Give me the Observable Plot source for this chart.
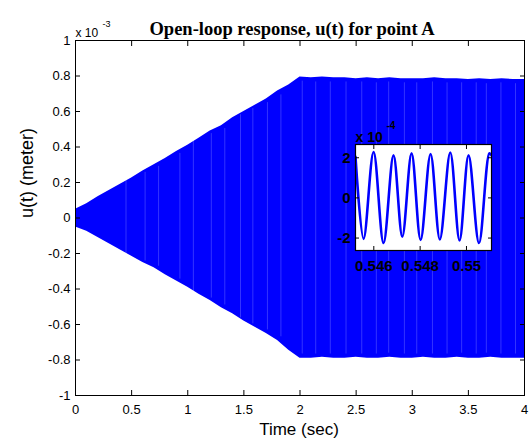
<!DOCTYPE html>
<html>
<head>
<meta charset="utf-8">
<script src="https://cdn.jsdelivr.net/npm/d3@7"></script>
<script src="https://cdn.jsdelivr.net/npm/@observablehq/plot@0.6"></script>
<style>
  html, body { margin: 0; padding: 0; background: white; }
  #wrap { position: relative; width: 529px; height: 443px; overflow: hidden; }
  #inset { position: absolute; left: 325px; top: 124px; }
</style>
</head>
<body>
<div id="wrap"><div id="main"></div><div id="inset"></div></div>
<script>
// ---- Main chart data (u in units of 1e-3 m) ----
const times = [0,0.1,0.2,0.3,0.4,0.5,0.6,0.7,0.8,0.9,1.0,1.1,1.2,1.3,1.4,1.5,1.6,1.7,1.8,1.9,2.0,2.1,2.2,2.3,2.4,2.5,2.6,2.7,2.8,2.9,3.0,3.1,3.2,3.3,3.4,3.5,3.6,3.7,3.8,3.9,4.0];
const upperEnv = [0.05,0.08,0.12,0.155,0.19,0.225,0.265,0.30,0.335,0.375,0.41,0.45,0.49,0.52,0.565,0.60,0.635,0.67,0.715,0.75,0.795,0.79,0.795,0.79,0.79,0.785,0.79,0.785,0.79,0.785,0.785,0.785,0.79,0.785,0.785,0.78,0.785,0.78,0.785,0.78,0.78];
const lowerEnv = [-0.05,-0.075,-0.11,-0.145,-0.18,-0.215,-0.25,-0.28,-0.32,-0.355,-0.39,-0.43,-0.465,-0.505,-0.54,-0.58,-0.615,-0.65,-0.69,-0.745,-0.79,-0.79,-0.785,-0.79,-0.79,-0.785,-0.79,-0.79,-0.785,-0.79,-0.79,-0.785,-0.79,-0.79,-0.785,-0.79,-0.79,-0.785,-0.79,-0.79,-0.79];
const streakTimes = [0.45,0.62,0.74,0.93,1.05,1.21,1.33,1.47,1.58,1.71,1.83,2.02,2.14,2.27,2.41,2.55,2.68,2.79,2.93,3.04,3.18,3.31,3.44,3.57,3.66,3.79,3.92];

const xTicks = [0,0.5,1,1.5,2,2.5,3,3.5,4];
const xTickLabels = ["0","0.5","1","1.5","2","2.5","3","3.5","4"];
const yTicks = [1,0.8,0.6,0.4,0.2,0,-0.2,-0.4,-0.6,-0.8,-1];
const yTickLabels = ["1","0.8","0.6","0.4","0.2","0","-0.2","-0.4","-0.6","-0.8","-1"];

const titleText = "Open-loop response, u(t) for point A";
const xLabel = "Time (sec)";
const yLabel = "u(t) (meter)";
const yExpBase = "x 10";
const yExpMain = "-3";

// ---- Inset data (u in units of 1e-4 m) ----
const insetT = [0.54521,0.54556,0.54599,0.54642,0.54685,0.54723,0.54763,0.54802,0.54845,0.54885,0.54930,0.54970,0.55009,0.55054,0.55099,0.55108];
const insetU = [2.05,-2.04,2.29,-2.25,2.12,-1.93,2.22,-2.09,2.19,-2.07,2.26,-2.12,2.12,-2.25,2.22,2.12];
const insetXTicks = [0.546,0.548,0.55];
const insetXTickLabels = ["0.546","0.548","0.55"];
const insetYTicks = [-2,0,2];
const insetYTickLabels = ["-2","0","2"];
const insetExp = "-4";

const blue = "#0000ff";
const env = times.map((t, i) => ({t, lo: lowerEnv[i], hi: upperEnv[i]}));
const streaks = streakTimes.map(t => {
  const i = Math.round(t * 10);
  return {t, lo: lowerEnv[i] * 0.97, hi: upperEnv[i] * 0.97};
});

const main = Plot.plot({
  width: 529, height: 443,
  marginLeft: 75, marginRight: 5, marginTop: 40, marginBottom: 48,
  style: {fontFamily: "'Liberation Sans', Arial, sans-serif", fontSize: "13px", background: "white", color: "black"},
  x: {domain: [0, 4]},
  y: {domain: [-1, 1]},
  marks: [
    Plot.areaY(env, {x: "t", y1: "lo", y2: "hi", fill: blue}),
    Plot.ruleX(streaks, {x: "t", y1: "lo", y2: "hi", stroke: "white", strokeOpacity: 0.2, strokeWidth: 1}),
    Plot.frame({stroke: "black", strokeWidth: 1}),
    Plot.axisX({ticks: xTicks, tickFormat: d => xTickLabels[xTicks.indexOf(d)], tickSize: -5, tickPadding: 14, label: null, fontSize: 13}),
    Plot.axisX({anchor: "top", ticks: xTicks, tickFormat: () => "", tickSize: -5, label: null}),
    Plot.axisY({ticks: yTicks, tickFormat: d => yTickLabels[yTicks.indexOf(d)], tickSize: -5, tickPadding: 10, label: null, fontSize: 13}),
    Plot.axisY({anchor: "right", ticks: yTicks, tickFormat: () => "", tickSize: -5, label: null}),
    Plot.text([titleText], {text: d => d, frameAnchor: "top", dy: -19, dx: -8, fontFamily: "'Liberation Serif', 'Times New Roman', serif", fontWeight: "bold", fontSize: 18.5}),
    Plot.text([xLabel], {text: d => d, frameAnchor: "bottom", dy: 39, dx: -1, fontSize: 17}),
    Plot.text([yLabel], {text: d => d, frameAnchor: "left", dx: -48, rotate: -90, fontSize: 18}),
    Plot.text([yExpBase], {text: d => d, frameAnchor: "top-left", textAnchor: "start", dy: -12, dx: 0, fontSize: 12}),
    Plot.text([yExpMain], {text: d => d, frameAnchor: "top-left", textAnchor: "start", dy: -20, dx: 27, fontSize: 9})
  ]
});
document.getElementById("main").appendChild(main);

const insetData = insetT.map((t, i) => ({t, u: insetU[i]}));
const inset = Plot.plot({
  width: 171, height: 154,
  marginLeft: 30, marginRight: 5, marginTop: 20, marginBottom: 28,
  style: {fontFamily: "'Liberation Sans', Arial, sans-serif", fontSize: "15px", fontWeight: "bold", background: "transparent", color: "black", overflow: "visible"},
  x: {domain: [0.54521, 0.55108]},
  y: {domain: [-2.62, 2.66]},
  marks: [
    Plot.frame({fill: "white"}),
    Plot.line(insetData, {x: "t", y: "u", stroke: blue, strokeWidth: 2.6, curve: "catmull-rom"}),
    Plot.frame({stroke: "black", strokeWidth: 1.2}),
    Plot.axisX({ticks: insetXTicks, tickFormat: d => insetXTickLabels[insetXTicks.indexOf(d)], tickSize: -4, tickPadding: 14, label: null, fontSize: 15, fontWeight: "bold"}),
    Plot.axisX({anchor: "top", ticks: insetXTicks, tickFormat: () => "", tickSize: -4, label: null}),
    Plot.axisY({ticks: insetYTicks, tickFormat: d => insetYTickLabels[insetYTicks.indexOf(d)], tickSize: -4, tickPadding: 9, label: null, fontSize: 15, fontWeight: "bold"}),
    Plot.axisY({anchor: "right", ticks: insetYTicks, tickFormat: () => "", tickSize: -4, label: null}),
    Plot.text([yExpBase], {text: d => d, frameAnchor: "top-left", textAnchor: "start", dy: -12, dx: 0, fontSize: 14, fontWeight: "bold"}),
    Plot.text([insetExp], {text: d => d, frameAnchor: "top-left", textAnchor: "start", dy: -23, dx: 31, fontSize: 10, fontWeight: "bold"})
  ]
});
document.getElementById("inset").appendChild(inset);
</script>
</body>
</html>
